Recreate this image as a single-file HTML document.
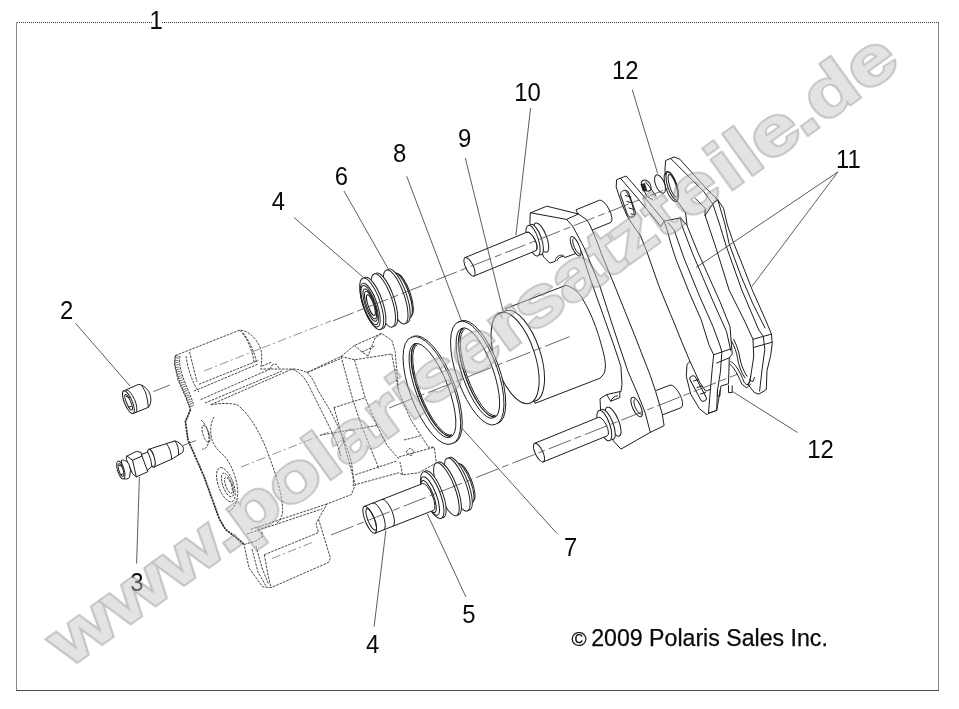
<!DOCTYPE html>
<html lang="de">
<head>
<meta charset="utf-8">
<title>Polaris Ersatzteile - Bremssattel</title>
<style>
html,body{margin:0;padding:0;background:#fff;}
body{width:959px;height:709px;overflow:hidden;position:relative;font-family:"Liberation Sans",Arial,sans-serif;}
svg{position:absolute;left:0;top:0;display:block;}
.lbl{font-family:"Liberation Sans",Arial,sans-serif;font-size:25px;fill:#0a0a0a;}
.copy{font-family:"Liberation Sans",Arial,sans-serif;font-size:21px;fill:#0a0a0a;stroke:#0a0a0a;stroke-width:0.25;}
.s{fill:none;stroke:#1e1e1e;stroke-width:1;stroke-linecap:round;stroke-linejoin:round;}
.sw{fill:#fff;stroke:#1e1e1e;stroke-width:1;stroke-linecap:round;stroke-linejoin:round;}
.ld{fill:none;stroke:#333;stroke-width:0.8;}
.ax{fill:none;stroke:#444;stroke-width:0.8;stroke-dasharray:14 3 3 3;}
.d{fill:none;stroke:#333;stroke-width:0.9;stroke-dasharray:2.6 1.1;stroke-linejoin:round;}
.dw{fill:#fff;stroke:#333;stroke-width:0.9;stroke-dasharray:2.6 1.1;stroke-linejoin:round;}
.wm{font-family:"Liberation Sans",Arial,sans-serif;font-weight:bold;font-size:69px;stroke-linejoin:miter;stroke-miterlimit:2.4;}
</style>
</head>
<body>
<svg width="959" height="709" viewBox="0 0 959 709">
<rect x="0" y="0" width="959" height="709" fill="#fff"/>

<!-- frame -->
<g id="frame" fill="none" stroke="#6e6e6e" stroke-width="1">
<path d="M16.5,22.5V690.5 M938.5,22.5V690.5" stroke="#858585"/>
<path d="M16,690.5H939" stroke="#4c4c4c"/>
<path d="M17,22.5H152 M162,22.5H939" stroke-dasharray="1 1" stroke="#3a3a3a"/>
</g>

<!-- BODY-START -->
<g id="caliper" class="d">
<!-- upper boss -->
<path class="dw" d="M175.2,355.6 L239.6,330.2 C246,330.5 251,334 254.8,338.6 C259,344 261.5,349 261.6,353.9 C262,359 261.5,364 260.7,369.1 L270,369 L292,369.1 C296,368.5 304,371 307.1,372.5 L341,356.4 L354.5,345.4 L381.6,333.5 L391.8,340.3 L395.1,351.3 L398.5,391.1 L410.6,419.5 L428.4,447.2 L434.3,447.2 L436.3,463 L418.5,472.8 L402.7,474.8 L398.8,472.8 L355.3,484.7 L351.4,494.6 L327,503.9 L318.5,519.1 L330.4,558 L328.7,562.3 L271.1,587.7 L262.6,586.8 L249.1,568.2 L244,544.5 L240.6,541.1 L225.4,529.3 L219.1,518.5 L203.9,476.2 L188,440 L185.4,421.6 L190.5,409.7 L186,398 L178,380 L174.4,364 Z"/>
<path d="M177.6,355.5 C175.6,361 177.6,371 183.2,384.5 C186,391.5 189,398.5 192,408" stroke="#555" stroke-width="3.4" stroke-dasharray="0.8 1.5"/>
<path d="M176,355 C173.5,361 175.5,371 181,385 C184,392 187,399 190.5,409.7 M180,356 C178.5,363 181,373 186,385 C189,392 191.5,398 194,406 M186,356 C187.5,368 192,382 198.9,392" stroke="#333"/>
<path d="M189.5,352 L197,382 M193.9,391.1 L258.2,364 M198.9,384.3 L258.2,360.6 M200.6,399.6 L270,369.1 M205,403 L282,371 M210.8,404.7 L292,369.1"/>
<path d="M239.6,330.2 C246,336 252,348 254,362 M243,333 C249,340 254.5,352 256.5,362" />
<path d="M270,369 L272,365 L276,364 L279,368 M262,366 L272,362"/>
<!-- left edge doubled -->
<path d="M190.5,409.7 L185.4,421.6 L188,440 L203.9,476.2 L219.1,518.5 L225.4,529.3 L240.6,541.1 L244,544.5" stroke="#2a2a2a" stroke-width="1.7" stroke-dasharray="2 1"/>
<!-- main cylinder front arc -->
<path d="M210.8,404.7 C222,403 231,403 237.7,405 C245,411 250,418 254.7,425.4 C261,436 265,445 268.2,454.2 C273,466 276,476 278.4,484.7 C281,494 282.3,502 282.6,508.4 C283,515 281,520 277,523"/>
<path d="M214,417 C210,424 210,432 212,440 C215,448 220,452 224.2,455.9 C229,461 232,468 234.3,474.5 C237,482 238,489 237.7,494.8 C237,503 234,508 229,512"/>
<path d="M201,420 C206,424 209,432 209,440 C208,447 205,450 202,449"/>
<ellipse cx="206" cy="434" rx="3" ry="9" transform="rotate(-18 206 434)"/>
<ellipse cx="225.9" cy="484.7" rx="7.5" ry="18" transform="rotate(-20 225.9 484.7)"/>
<ellipse cx="227.5" cy="485" rx="4.6" ry="12.5" transform="rotate(-20 227.5 485)"/>
<ellipse cx="228.5" cy="485.2" rx="2.8" ry="8.5" transform="rotate(-20 228.5 485.2)"/>
<!-- body right arc -->
<path d="M307.1,372.5 C311,376 314,381 315.8,385.9 C320,394 325,402 329.6,409.6 C335,420 340,430 343.5,439.3 C347,448 350,456 351.4,463 C353,472 353.6,480 353.3,486.7"/>
<path d="M292,369.1 C300,372 306,379 310,388 C316,400 322,412 328,424 C334,436 338,446 341,456"/>
<!-- block verticals / horizontals -->
<path d="M341,356.4 L352.8,399.6 L361.3,425 L379,468.9 M354.5,359.8 L365.2,397.8 L377,425.4 L386.9,445.2 L398.8,459 M391.8,353.9 L398.5,391.1"/>
<path d="M307.1,372.5 L341,358.5 M341,356.4 L354.5,359.8 L391.8,353.9 M354.5,345.4 L362,352 L368,356 M381.6,333.5 L375,338 L368,356 M362,352 L375,346"/>
<path d="M333.6,407.7 L365.2,397.8 M334.2,408 L355.3,484.7 M319.8,435.3 L377,425.4 M355.3,474.8 L396.8,461 M398.8,457 L434.3,447.2 M402.7,474.8 L400,462"/>
<!-- lower edge + lower boss -->
<path d="M250.8,529.3 L327,503.9 M247,534 L322,509 M244,544.5 L256,541 L262,537 L262,531 M264.3,554.7 L318.5,532.6 M264.3,554.7 L268,575 L271.1,587.7 M252,549 L258,572 L266,586 M256,546 L262,568 L268.5,584 M318.5,519.1 L316,524 L318.5,532.6"/>
<path d="M406,452 l4,-4 l4,3 l-3,5 z M404,440 L420,436" stroke="#333"/>
</g>
<!-- BODY-END -->

<!-- PARTS-START -->
<g id="bracket">
<path class="sw" d="M576.3,209.7L599.5,200.2A4.6,12.5 -27.0 0 1 610.9,222.4L587.7,231.9Z"/>
<path class="sw" d="M650.3,392.8L670.1,385.1A4.8,12.6 -27.0 0 1 681.5,407.5L661.7,415.2Z"/>
<path class="sw" d="M530.6,212.8 L546.8,206.2 L578.5,214 L586.9,220 C591,226 597,241 601.3,253.5 L616.4,290 L634.4,334.7 L650.2,375.3 L655.7,391.6 L662.3,414.3 L664.1,425.7 L650.3,432.3 L621,449.1 L613.2,440.7 L600.6,410.7 L600,398.8 L606.6,394.6 L619.8,391.6 L621,391.6 L622,384.4 L620.9,366.3 L614.1,346 L602.9,314.4 L589.3,276.1 L581.4,251.3 L577,253 L564.7,257.6 C564,255 561,254.5 558.5,256 C556.5,257.2 555.3,259 555.1,261.4 L549.8,263.1 L543.8,257.1 L530,223.6 Z"/>
<path class="s" d="M566.5,219.4 L572.5,226 C576,232 581,242 584.8,249 L599.5,285.1 L614.1,330.2 L627.7,370.8 L637.7,394 L644.9,411.9 L650.3,432.3"/>
<path class="s" d="M530.6,212.8 L566.5,219.4 L578.5,214"/>
<path class="s" d="M557,260.6 C557.5,258.5 560,256.6 563,256.4"/>
<path class="s" d="M606.6,394.6 L610.8,401.2 L619.8,397.6 L619.8,391.6 M610.8,401.2 C611.5,398.5 614,396.2 617.5,395.8"/>
<ellipse class="sw" cx="575.6" cy="246.3" rx="3.6" ry="10.6" transform="rotate(-24.0 575.6 246.3)"/>
<path class="s" d="M573.2,238.7A2.4,8.4 -24.0 0 0 580.0,254.1"/>
<ellipse class="sw" cx="636.6" cy="407.0" rx="4.0" ry="10.6" transform="rotate(-25.0 636.6 407.0)"/>
<path class="s" d="M634.3,399.6A2.6,8.2 -25.0 0 0 641.3,414.4"/>
</g>
<g id="piston">
<path class="sw" d="M506.1,308.4 L565.9,285.3 C575,288 580,294 582.8,299.3 C590,311 595,324 598.6,335.4 C602,347 605,357 605.4,364.8 C605.5,370 604.5,373 603.1,374.9 L599.8,378.3 L535.4,403.2 Z"/>
<ellipse class="sw" cx="520.5" cy="355.9" rx="20.0" ry="47.5" transform="rotate(-18.0 520.5 355.9)"/>
<ellipse class="sw" cx="515.1" cy="358.0" rx="20.0" ry="47.5" transform="rotate(-18.0 515.1 358.0)"/>
</g>
<g id="pins10">
<ellipse class="sw" cx="541.2" cy="237.6" rx="5.4" ry="15.6" transform="rotate(-21.0 541.2 237.6)"/>
<ellipse class="sw" cx="536.0" cy="239.6" rx="5.6" ry="16.0" transform="rotate(-19.0 536.0 239.6)"/>
<ellipse class="sw" cx="533.0" cy="240.7" rx="5.6" ry="16.0" transform="rotate(-17.0 533.0 240.7)"/>
<path class="sw" d="M465.0,257.6L527.0,232.2A3.8,10.2 -26.0 0 1 536.0,250.6L474.0,276.0Z"/>
<ellipse class="sw" cx="469.5" cy="266.8" rx="3.8" ry="10.2" transform="rotate(-26.0 469.5 266.8)"/>
<path class="s" d="M527.0,232.2A3.8,10.2 -26.0 0 1 536.0,250.6"/>
<ellipse class="sw" cx="613.2" cy="421.6" rx="5.4" ry="15.6" transform="rotate(-23.0 613.2 421.6)"/>
<ellipse class="sw" cx="607.5" cy="424.3" rx="5.6" ry="16.0" transform="rotate(-21.0 607.5 424.3)"/>
<ellipse class="sw" cx="604.3" cy="425.6" rx="5.6" ry="16.0" transform="rotate(-19.0 604.3 425.6)"/>
<path class="sw" d="M534.5,443.4L598.3,417.4A3.8,10.2 -26.0 0 1 607.3,435.8L543.5,461.8Z"/>
<ellipse class="sw" cx="539.0" cy="452.6" rx="3.8" ry="10.2" transform="rotate(-26.0 539.0 452.6)"/>
</g>
<g id="pads">
<path class="sw" style="stroke:none" d="M687,225 L685.5,212.5 L676.5,200 L668.5,185.9 L664.9,170.4 L665.6,160.5 L674.1,157 L679.7,159.1 L706.5,188.7 L717.8,199.9 L723.5,208.3 L727.4,225 L733.3,242.2 L740.1,258.9 L752,289.3 L765.5,319.8 L771.5,334.1 L772.2,343.7 L770.7,355.6 L767,370.4 L766.3,389.6 L758.9,394.1 L754.4,392.6 L748.5,385.2 L750.7,376.3 L753.7,357 L753,339.3 L744.1,320 L729.1,290 L716.4,249.2 L705.1,215.4 L695.3,198.5 L687,225 Z"/>
<path class="s" d="M687,225 L685.5,212.5 L676.5,200 L668.5,185.9 L664.9,170.4 L665.6,160.5 L674.1,157 L679.7,159.1 L706.5,188.7 L717.8,199.9 L723.5,208.3 L727.4,225 L733.3,242.2 L740.1,258.9 L752,289.3 L765.5,319.8 L771.5,334.1 L772.2,343.7 L770.7,355.6 L767,370.4 L766.3,389.6 L758.9,394.1 L754.4,392.6 L748.5,385.2 L750.7,376.3 L753.7,357 L753,339.3 L744.1,320 L729.1,290 L716.4,249.2 L705.1,215.4"/>
<path class="s" d="M671.3,159.1 L703.7,191.5 L712.9,204.1 L719.8,225 L726.3,246.4 L741.8,290 L758.8,330 L763.3,336.3 L764.8,349.6 L762,370 L759.6,391.1"/>
<path class="s" d="M705.1,215.4 L713.6,202.8 L717.8,199.9 M695.3,198.5 L705.1,208.3 L705.1,215.4 M717.8,199.9 L724.9,224 L729.1,243.7 L741,276 L753,304 L765,328"/>
<path class="s" d="M753,339.3 L771.5,334.1 M753.7,347.4 L772.2,342.2 M750.7,376.3 L750,380.7 L753,381.5 L754.4,377.5"/>
<ellipse class="sw" cx="672.3" cy="185.9" rx="4.6" ry="14.8" transform="rotate(-18.0 672.3 185.9)"/>
<ellipse class="s" cx="672.9" cy="185.9" rx="3.2" ry="12.0" transform="rotate(-18.0 672.9 185.9)"/>
<ellipse class="s" cx="671.3" cy="186.6" rx="5.6" ry="15.6" transform="rotate(-18.0 671.3 186.6)"/>
<ellipse class="sw" cx="660.0" cy="184.0" rx="4.4" ry="9.8" transform="rotate(-22.0 660.0 184.0)"/>
<ellipse class="sw" cx="646.2" cy="185.6" rx="4.2" ry="6.2" transform="rotate(-35.0 646.2 185.6)"/>
<path d="M641.2,184.6 L644.6,183.4 L646.8,190.6 L643,191 Z" fill="#2a2a2a" stroke="#1e1e1e" stroke-width="0.8"/>
<path class="s" d="M645.5,181.8 L650.5,188 L656,196 M641.2,184.6 L647,196.5 L653,200"/>
<path class="sw" d="M617,179.5 L626.2,176 L644.5,197.2 L664.2,221.1 L680.3,217.9 L686.8,225 L697.8,252.1 L704.6,267.3 L719.8,301.2 L730,326.6 L732.2,354.1 L729.3,357.8 L728.5,383.7 L721,386 L716.7,410.4 L708.5,413.3 L707,414.8 L699.6,408.9 L690.7,394.1 L686.3,376.3 L687,364.4 L690,361.5 L681.9,342.2 L673,320 L670.7,314.7 L658.9,286 L647,252.1 L640.3,235.2 L636,229.6 L627.6,216.9 L621.9,204.2 L616.3,187.3 Z"/>
<path class="s" d="M664.2,221.1 L667,229.6 L671.3,245 L675.8,258.9 L689.3,292.7 L701.2,319.8 L709,345 L713.7,354.8 L712.2,368.9 L710,394.1 L708.5,413.3"/>
<path class="s" d="M668,222.5 L674.1,230 L684.3,258.9 L699.5,296.1 L713,326.6 L719.8,345 L721.9,351.9 L720.4,371.9 L717.4,391.1 L716.7,410.4"/>
<path class="s" d="M680.3,217.9 L681.7,225 L692.7,253.8 L713,301.2 L726.6,331.7 L730.7,350.4"/>
<path class="s" d="M713.7,354.8 L730.7,348.9 M716.7,363 L729.3,357.8 M620.5,178.3 L640.3,201.4 L661,226.5 L664.2,221.1"/>
<path class="s" d="M690,361.5 L699.6,382.2 L705.6,391.1 L710,389.5 M708.5,413.3 L716.7,410.4"/>
<rect class="sw" x="-4.2" y="-14" width="8.4" height="28" rx="4.2" transform="translate(628.1,203.8) rotate(-19.5)"/>
<path class="s" d="M626.3,191.6 C629.5,196 633.5,206 634.2,214.5"/>
<path class="s" d="M625.5,195.5 L630.5,197 M627,201.5 L632.5,203 M629,208 L634,209.5 M631,213.8 L634.6,215"/>
<rect class="sw" x="-3" y="-14" width="6" height="28" rx="3" transform="translate(698.1,388.5) rotate(-28)"/>
<path class="s" d="M693.5,381 L698.5,379.5 M697,387.5 L702,386 M700.5,394 L705.5,392.5"/>
<path class="s" d="M717.5,389.5 V396 H720 V390.5 M728.5,385.2 V392.6 H732.2 V386"/>
<path class="s" d="M733.7,339.3 C737,346 739,352 739.6,357 C741,365 744,372 747,376.3 M731.5,341 C734.5,347 736.6,352 737.4,357.5 C738.5,365.5 741.5,373 745,378"/>
<path class="s" d="M730.7,361.5 C736,364 740,372 744.1,382.2 L747,385.2 L750,381 M729.5,364 C734,367 737.5,374 741.8,384 L746.6,388 L750.5,384"/>
</g>
<g id="rings">
<path class="sw" fill-rule="evenodd" d="M461.3,320.7A19.8,54.5 -19.6 1 1 497.9,423.4A19.8,54.5 -19.6 1 1 461.3,320.7ZM463.7,327.3A14.8,47.5 -19.6 1 1 495.6,416.8A14.8,47.5 -19.6 1 1 463.7,327.3Z"/>
<path class="sw" fill-rule="evenodd" d="M458.9,321.7A19.8,54.5 -19.6 1 1 495.5,424.3A19.8,54.5 -19.6 1 1 458.9,321.7ZM461.9,328.3A14.8,47.5 -19.6 1 1 493.7,417.7A14.8,47.5 -19.6 1 1 461.9,328.3Z"/>
<path class="s" d="M463.2,328.9A14.2,46.5 -19.6 0 0 494.4,416.5"/>
<path class="s" d="M464.4,329.2A13.8,45.9 -19.6 0 0 495.2,415.6"/>
<path class="sw" fill-rule="evenodd" d="M413.9,336.2A20.6,57.0 -20.9 1 1 454.6,442.7A20.6,57.0 -20.9 1 1 413.9,336.2ZM416.4,342.7A15.6,50.0 -20.9 1 1 452.1,436.2A15.6,50.0 -20.9 1 1 416.4,342.7Z"/>
<path class="sw" fill-rule="evenodd" d="M411.5,337.2A20.6,57.0 -20.9 1 1 452.1,443.6A20.6,57.0 -20.9 1 1 411.5,337.2ZM414.6,343.7A15.6,50.0 -20.9 1 1 450.2,437.1A15.6,50.0 -20.9 1 1 414.6,343.7Z"/>
<path class="s" d="M415.9,344.3A15.0,49.0 -20.9 0 0 450.9,435.9"/>
<path class="s" d="M417.1,344.6A14.6,48.4 -20.9 0 0 451.7,435.0"/>
</g>
<g id="boot6" transform="translate(-2.6,0.6)">
<ellipse class="sw" cx="406.5" cy="294.1" rx="6.5" ry="22.0" transform="rotate(-19.0 406.5 294.1)"/>
<ellipse class="sw" cx="404.8" cy="294.8" rx="7.0" ry="23.6" transform="rotate(-19.0 404.8 294.8)"/>
<ellipse class="sw" cx="404.8" cy="294.8" rx="7.0" ry="23.6" transform="rotate(-19.0 404.8 294.8)"/>
<ellipse class="sw" cx="400.5" cy="295.4" rx="8.6" ry="28.4" transform="rotate(-19.0 400.5 295.4)"/>
<ellipse class="sw" cx="398.3" cy="296.3" rx="8.6" ry="28.4" transform="rotate(-19.0 398.3 296.3)"/>
<ellipse class="sw" cx="388.1" cy="299.0" rx="8.6" ry="28.0" transform="rotate(-19.0 388.1 299.0)"/>
<ellipse class="sw" cx="385.9" cy="299.9" rx="8.6" ry="28.0" transform="rotate(-19.0 385.9 299.9)"/>
<ellipse class="sw" cx="376.5" cy="302.4" rx="8.6" ry="27.1" transform="rotate(-19.0 376.5 302.4)"/>
<ellipse class="sw" cx="374.3" cy="303.3" rx="8.6" ry="27.1" transform="rotate(-19.0 374.3 303.3)"/>
<ellipse class="s" cx="372.8" cy="304.5" rx="7.0" ry="23.0" transform="rotate(-19.0 372.8 304.5)"/>
<ellipse class="s" cx="372.3" cy="304.5" rx="6.0" ry="20.5" transform="rotate(-19.0 372.3 304.5)"/>
<ellipse class="s" cx="372.7" cy="304.5" rx="4.8" ry="17.0" transform="rotate(-19.0 372.7 304.5)"/>
<ellipse class="s" cx="373.1" cy="304.5" rx="4.0" ry="14.5" transform="rotate(-19.0 373.1 304.5)"/>
<ellipse class="s" cx="373.5" cy="304.5" rx="2.8" ry="11.0" transform="rotate(-19.0 373.5 304.5)"/>
</g>
<g id="boot5">
<ellipse class="sw" cx="466.3" cy="482.4" rx="5.6" ry="19.5" transform="rotate(-21.0 466.3 482.4)"/>
<ellipse class="sw" cx="464.7" cy="483.0" rx="6.0" ry="20.9" transform="rotate(-21.0 464.7 483.0)"/>
<ellipse class="sw" cx="459.5" cy="483.7" rx="8.4" ry="28.2" transform="rotate(-21.0 459.5 483.7)"/>
<ellipse class="sw" cx="457.3" cy="484.6" rx="8.4" ry="28.2" transform="rotate(-21.0 457.3 484.6)"/>
<ellipse class="sw" cx="448.6" cy="488.4" rx="8.4" ry="28.2" transform="rotate(-21.0 448.6 488.4)"/>
<ellipse class="sw" cx="446.4" cy="489.3" rx="8.4" ry="28.2" transform="rotate(-21.0 446.4 489.3)"/>
<ellipse class="sw" cx="434.5" cy="494.2" rx="8.0" ry="24.9" transform="rotate(-21.0 434.5 494.2)"/>
<ellipse class="sw" cx="432.3" cy="495.1" rx="8.0" ry="24.9" transform="rotate(-21.0 432.3 495.1)"/>
<ellipse class="s" cx="430.2" cy="496.0" rx="6.2" ry="20.5" transform="rotate(-21.0 430.2 496.0)"/>
<ellipse class="sw" cx="428.6" cy="496.6" rx="5.0" ry="17.0" transform="rotate(-21.0 428.6 496.6)"/>
<path class="sw" d="M364.3,506.4L422.6,483.6A4.6,14.4 -22.0 0 1 433.4,510.4L375.1,533.2Z"/>
<ellipse class="sw" cx="369.7" cy="519.8" rx="4.6" ry="14.4" transform="rotate(-22.0 369.7 519.8)"/>
<ellipse class="s" cx="371.2" cy="519.4" rx="3.4" ry="11.5" transform="rotate(-22.0 371.2 519.4)"/>
<path class="s" d="M382.3,499.3A4.6,14.4 -22.0 0 1 393.1,526.1"/>
<path class="s" d="M373.1,502.9A4.6,14.4 -22.0 0 1 383.9,529.7"/>
</g>
<g id="cap2">
<path class="sw" d="M123.6,391 L138.3,384.4 C141,384.6 143,385.6 144.9,387.1 C147,389 148.6,391 149.6,393.3 C150.6,396 151,398.5 150.8,401.1 C150.5,404 149.6,406 148.4,407.3 L133.3,413.5 Z"/>
<path class="s" d="M141.8,385.9 C144,388.5 145.6,392 146.5,395.6 C147.6,400 148,404 148.4,407.3"/>
<ellipse class="sw" cx="128.4" cy="402.2" rx="3.9" ry="12.2" transform="rotate(-23.0 128.4 402.2)"/>
<path class="s" d="M126.4,389.9A3.9,12.2 -23.0 0 1 136.0,412.3"/>
<ellipse class="s" cx="128.6" cy="402.2" rx="2.1" ry="8.4" transform="rotate(-23.0 128.6 402.2)"/>
<path class="s" d="M126.2,396.5 L129.4,397.6 M128.3,407.2 L131.5,406.4"/>
</g>
<g id="bleeder3">
<path class="sw" d="M148.8,449.3 L174.9,440.9 C177,441.5 178.8,442.4 180.1,443.6 C181.6,444.8 182.6,446 183.2,447.2 C183.6,449 183.4,450.8 182.7,452.4 L171.7,459.2 L154,467 Z"/>
<path class="s" d="M174.9,440.9 C177.5,444 179,449 178.6,454.8 M166.5,443.6 C169.5,447.5 171.5,453 171.7,459.2"/>
<ellipse class="sw" cx="151.4" cy="458.2" rx="3.0" ry="9.2" transform="rotate(-16.0 151.4 458.2)"/>
<path class="sw" d="M141,454.6 L147.6,452.2 C150,456 151.4,461 151.8,466.6 L147,470.6 Z"/>
<path class="sw" d="M126.9,456.1 L136.3,451.4 L141,452.4 L142,456.1 L147.8,471.7 L136.3,476.9 L132.6,473.8 L126.4,459.2 Z"/>
<path class="s" d="M126.9,456.1 L132.6,460.2 L142,456.1 M132.6,460.2 L136.3,476.9"/>
<path class="sw" d="M121.7,460.2 C124.5,459.5 127,461.5 129,464.4 L130.5,470 L129.5,477.4 C128,479 126,479.4 124.3,479 Z"/>
<ellipse class="sw" cx="120.8" cy="470.0" rx="3.3" ry="9.3" transform="rotate(-17.0 120.8 470.0)"/>
<ellipse class="s" cx="121.0" cy="470.0" rx="2.1" ry="6.6" transform="rotate(-17.0 121.0 470.0)"/>
<path class="s" d="M119.3,465.5 L122.2,466.3 M120.6,474.6 L123,474"/>
</g>
<g id="axes" class="ax">
<path d="M153.5,391.5L170,385" stroke-dasharray="none"/>
<path d="M204,371L262,348" stroke-dasharray="9 3 2 3" stroke="#777"/>
<path d="M262,348L331,321" stroke-dasharray="9 3 2 3" stroke="#777"/>
<path d="M333,320.8L668,188.5" stroke-dasharray="22 4 7 4"/>
<path d="M182.7,445.7L196,440.5" stroke-dasharray="none"/>
<path d="M241,467L329,432" stroke-dasharray="9 3 2 3" stroke="#777"/>
<path d="M389,408L573,335.3" stroke-dasharray="26 4 8 4"/>
<path d="M272,558.5L312,542.5" stroke-dasharray="9 3 2 3" stroke="#777"/>
<path d="M331,535L738,374" stroke-dasharray="24 4 7 4"/>
</g>
<!-- PARTS-END -->

<!-- leader lines -->
<g id="leaders" class="ld">
<path d="M75.5,323.3L130,386"/>
<path d="M139.4,477L136.6,563.5"/>
<path d="M294,217.5L363.4,277.4"/>
<path d="M344,191L388.2,268.8"/>
<path d="M385.9,530.4L374.1,626.7"/>
<path d="M427.4,514.1L465.9,597"/>
<path d="M406.7,176.2L461.5,321"/>
<path d="M461.9,428.2L557.1,533.6"/>
<path d="M465.3,158L503,311"/>
<path d="M530.6,108.1L515.9,235.4"/>
<path d="M632.2,89.5L657.6,173.3"/>
<path d="M837.9,171.9L696,267.5 M837.9,171.9L752.1,286.2"/>
<path d="M732.8,391.7L797.5,432.5"/>
</g>

<!-- labels -->
<g id="labels" class="lbl" style="filter:grayscale(1)">
<text transform="translate(149.5,29) scale(0.955,1)">1</text>
<text transform="translate(60.0,319.3) scale(0.955,1)">2</text>
<text transform="translate(130.2,591) scale(0.955,1)">3</text>
<text transform="translate(271.7,210) scale(0.955,1)">4</text>
<text transform="translate(334.7,184.5) scale(0.955,1)">6</text>
<text transform="translate(393.1,161.8) scale(0.955,1)">8</text>
<text transform="translate(458.0,147.2) scale(0.955,1)">9</text>
<text transform="translate(514.3,101) scale(0.955,1)">10</text>
<text transform="translate(612.0,79.2) scale(0.955,1)">12</text>
<text transform="translate(836.0,167.5) scale(0.955,1)">11</text>
<text transform="translate(807.2,458.3) scale(0.955,1)">12</text>
<text transform="translate(564.0,555.5) scale(0.955,1)">7</text>
<text transform="translate(462.2,623.2) scale(0.955,1)">5</text>
<text transform="translate(366.0,653.2) scale(0.955,1)">4</text>
</g>
<text class="copy" x="571.5" y="645.5" style="filter:grayscale(1)"><tspan font-size="20.5">©</tspan><tspan x="591.2" y="645.8" font-size="23.15">2009 Polaris Sales Inc.</tspan></text>

<!-- watermark -->
<g id="watermark" transform="translate(68.3,668.3) rotate(-35.8) scale(1.226,1)">
<text class="wm" vector-effect="non-scaling-stroke" x="0" y="0" dx="0.0 0.0 0.0 0.0 -0.82 -0.82 -0.82 0.0 0.0 0.0 0.0 0.0 0.0 -0.41 -0.82 -1.22 -1.63 0.0 2.45 2.85 0.82 0.0 -1.63 -0.41 0.0" fill="#c8c8c8" stroke="#848484" stroke-width="3.8" paint-order="stroke" opacity="0.5">www.polarisersatzteile.de</text>
</g>
</svg>
</body>
</html>
